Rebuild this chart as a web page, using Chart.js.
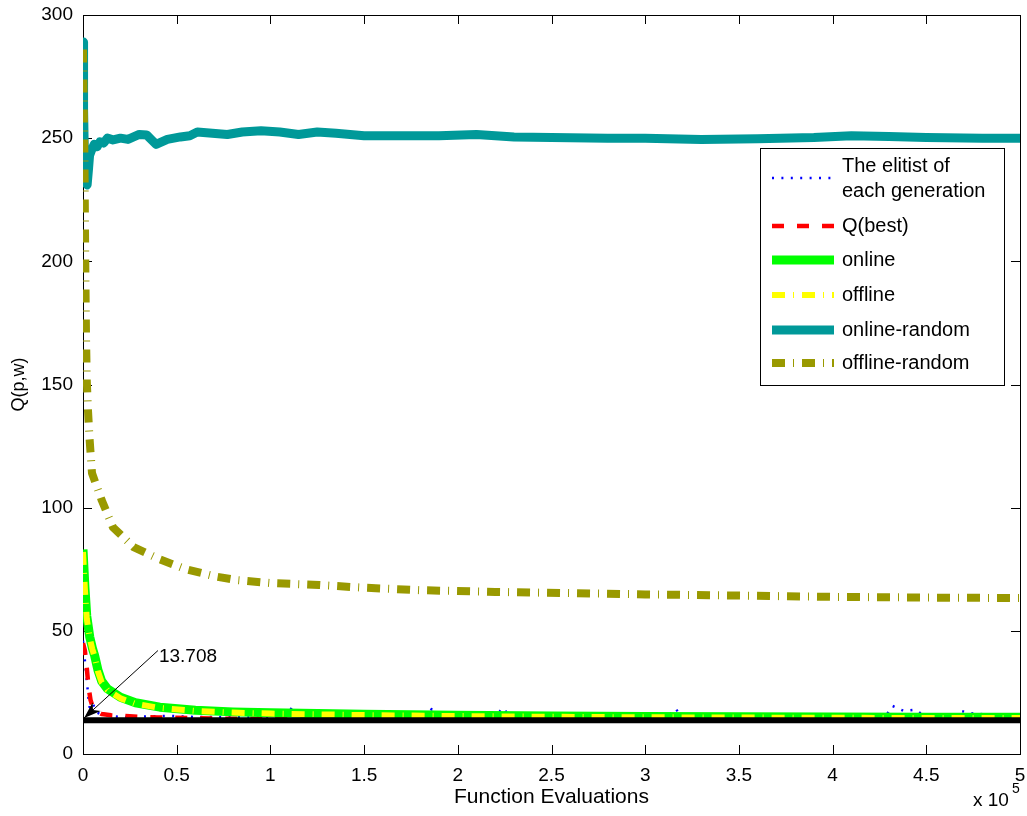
<!DOCTYPE html>
<html>
<head>
<meta charset="utf-8">
<script src="https://cdn.jsdelivr.net/npm/chart.js@4/dist/chart.umd.min.js"></script>
<style>
  html, body { margin: 0; padding: 0; background: #fff; }
  #wrap { width: 1027px; height: 816px; }
</style>
</head>
<body>
<div id="wrap"><canvas id="chartQ" width="1027" height="816"></canvas></div>
<script>
// x values are in units of 10^5 function evaluations
var xElitist = [0, 0.01, 0.02, 0.03, 0.035, 0.05, 0.07, 0.1, 0.15, 0.2, 0.3, 0.45, 0.6, 0.8, 1.08, 1.115, 1.15, 1.5, 1.84, 1.86, 1.9, 2.2, 2.24, 2.28, 2.6, 3.12, 3.16, 3.2, 3.7, 4.28, 4.32, 4.38, 4.44, 4.5, 4.64, 4.68, 4.74, 5];
var yElitist = [46, 38, 30, 22, 19, 21, 17, 16, 15.5, 15, 15.2, 15.5, 15, 15, 15, 18.8, 15, 15, 15, 18.2, 15, 15, 18.8, 15, 15, 15, 18.5, 15, 15.3, 15, 19.5, 17.5, 18, 15, 15, 17.6, 16.5, 15];

var xBest = [0, 0.01, 0.02, 0.03, 0.04, 0.05, 0.07, 0.1, 0.15, 0.25, 0.4, 0.7, 1, 2, 3, 5];
var yBest = [45, 42, 35, 27, 22, 19.5, 17.5, 16.2, 15.7, 15.3, 14.8, 14.4, 14.2, 14.0, 13.9, 13.8];

var xOnline = [0, 0.01, 0.02, 0.036, 0.05, 0.062, 0.08, 0.1, 0.13, 0.2, 0.28, 0.41, 0.6, 0.8, 1.0, 1.5, 2.0, 2.5, 3.0, 3.5, 4.0, 4.5, 5.0];
var yOnline = [83, 68, 56, 47.5, 43, 40, 34, 29.5, 26.5, 23, 20.8, 19, 17.8, 17.1, 16.7, 16.1, 15.7, 15.4, 15.2, 15.1, 15.0, 14.9, 14.9];

var xOffline = [0, 0.01, 0.02, 0.036, 0.05, 0.062, 0.08, 0.1, 0.13, 0.2, 0.28, 0.41, 0.6, 0.8, 1.0, 1.5, 2.0, 2.5, 3.0, 3.5, 4.0, 4.5, 5.0];
var yOffline = [82, 67, 55, 47, 42.5, 39.5, 33.5, 29, 26, 22.6, 20.4, 18.7, 17.5, 16.8, 16.4, 15.8, 15.4, 15.1, 14.9, 14.8, 14.7, 14.6, 14.6];

var xOnlineRandom = [0, 0.003, 0.008, 0.015, 0.022, 0.03, 0.035, 0.045, 0.06, 0.075, 0.09, 0.11, 0.13, 0.16, 0.2, 0.24, 0.27, 0.3, 0.34, 0.37, 0.39, 0.42, 0.45, 0.52, 0.57, 0.61, 0.69, 0.77, 0.85, 0.95, 1.05, 1.15, 1.25, 1.35, 1.5, 1.7, 1.9, 2.1, 2.3, 2.5, 2.8, 3.0, 3.3, 3.6, 3.9, 4.1, 4.3, 4.5, 4.8, 5.0];
var yOnlineRandom = [289, 262, 240, 232, 231, 238, 243, 245, 247.5, 246.5, 248.5, 248, 250, 249.3, 250, 249.5, 250.5, 251.5, 251.3, 249, 247.5, 248.5, 249.5, 250.5, 251, 252.5, 252, 251.5, 252.5, 253, 252.5, 251.5, 252.5, 252, 251, 251, 251, 251.5, 250.5, 250.3, 250, 250, 249.5, 249.8, 250.3, 251, 250.7, 250.3, 250, 250];

var xOfflineRandom = [0, 0.008, 0.012, 0.016, 0.02, 0.027, 0.035, 0.048, 0.1, 0.16, 0.27, 0.41, 0.55, 0.71, 0.82, 1.0, 1.26, 1.5, 1.8, 2.2, 2.6, 3.0, 3.5, 4.0, 4.5, 5.0];
var yOfflineRandom = [286, 240, 200, 170, 152, 139, 128, 114, 103, 92, 84, 79, 75, 72, 70.6, 69.4, 68.6, 67.5, 66.5, 65.8, 65.3, 64.8, 64.3, 63.8, 63.5, 63.3];

var optimumValue = 13.708;
var xOptimum = [0, 5];
var yOptimum = [optimumValue, optimumValue];

var arrowFrom = [0.4, 42];
var arrowTo = [0.006, 14.6];

var xTicks = [0, 0.5, 1, 1.5, 2, 2.5, 3, 3.5, 4, 4.5, 5];
var yTicks = [0, 50, 100, 150, 200, 250, 300];

const FONT = "'Liberation Sans', Arial, Helvetica, sans-serif";

function pts(xs, ys) {
    var out = [];
    for (let i = 0; i < xs.length; i++) { out.push({x: xs[i], y: ys[i]}); }
    return out;
}

function lineSet(label, xs, ys, color, width, dash, order) {
    return {
        label: label,
        data: pts(xs, ys),
        borderColor: color,
        backgroundColor: color,
        borderWidth: width,
        borderDash: dash,
        borderCapStyle: "butt",
        borderJoinStyle: "round",
        pointRadius: 0,
        tension: 0,
        fill: false,
        clip: 0,
        order: order
    };
}

var datasets = [
    lineSet(["The elitist of", "each generation"], xElitist, yElitist, "#0000ff", 2.5, [2, 7.4], 6),
    lineSet(["Q(best)"], xBest, yBest, "#ff0000", 4.5, [12, 13], 5),
    lineSet(["online"], xOnline, yOnline, "#00ff00", 9, [], 4),
    lineSet(["offline"], xOffline, yOffline, "#ffff00", 6, [13, 8, 1, 8], 3),
    lineSet(["online-random"], xOnlineRandom, yOnlineRandom, "#009999", 9, [], 2),
    lineSet(["offline-random"], xOfflineRandom, yOfflineRandom, "#999900", 8, [13, 8, 1, 8], 1),
    lineSet(null, xOptimum, yOptimum, "#000000", 6, [], 0)
];

// frame with inward ticks, like the MATLAB axes box
const framePlugin = {
    id: "frame",
    beforeDatasetsDraw(chart) {
        const c = chart.ctx, a = chart.chartArea;
        const xs = chart.scales.x, ys = chart.scales.y;
        c.save();
        c.strokeStyle = "#000";
        c.lineWidth = 1;
        c.beginPath();
        xTicks.forEach(function(v) {
            const px = Math.round(xs.getPixelForValue(v)) + 0.5;
            c.moveTo(px, a.bottom); c.lineTo(px, a.bottom - 9);
            c.moveTo(px, a.top); c.lineTo(px, a.top + 9);
        });
        yTicks.forEach(function(v) {
            const py = Math.round(ys.getPixelForValue(v)) + 0.5;
            c.moveTo(a.left, py); c.lineTo(a.left + 9, py);
            c.moveTo(a.right, py); c.lineTo(a.right - 9, py);
        });
        c.stroke();
        c.strokeRect(Math.round(a.left) + 0.5, Math.round(a.top) + 0.5, Math.round(a.right - a.left), Math.round(a.bottom - a.top));
        c.restore();
    },
    afterDatasetsDraw(chart) {
        const c = chart.ctx, a = chart.chartArea;
        const xs = chart.scales.x, ys = chart.scales.y;
        c.save();
        // annotation arrow
        const x0 = xs.getPixelForValue(arrowFrom[0]), y0 = ys.getPixelForValue(arrowFrom[1]);
        const x1 = xs.getPixelForValue(arrowTo[0]), y1 = ys.getPixelForValue(arrowTo[1]);
        const ang = Math.atan2(y1 - y0, x1 - x0);
        c.strokeStyle = "#000";
        c.fillStyle = "#000";
        c.lineWidth = 1;
        c.beginPath(); c.moveTo(x0, y0); c.lineTo(x1, y1); c.stroke();
        c.beginPath();
        c.moveTo(x1, y1);
        c.lineTo(x1 - 17 * Math.cos(ang) + 6 * Math.sin(ang), y1 - 17 * Math.sin(ang) - 6 * Math.cos(ang));
        c.lineTo(x1 - 12 * Math.cos(ang), y1 - 12 * Math.sin(ang));
        c.lineTo(x1 - 17 * Math.cos(ang) - 6 * Math.sin(ang), y1 - 17 * Math.sin(ang) + 6 * Math.cos(ang));
        c.closePath();
        c.fill();
        c.font = "19px " + FONT;
        c.textBaseline = "middle";
        c.textAlign = "left";
        c.fillText(String(optimumValue), x0 + 1, y0 + 6);

        // legend box
        const lx = 760.5, ly = 148.5, lw = 244, lh = 237;
        c.fillStyle = "#fff";
        c.fillRect(lx, ly, lw, lh);
        c.strokeStyle = "#000";
        c.strokeRect(lx, ly, lw, lh);
        const rows = [178, 226, 260, 295, 330, 363];
        c.font = "20px " + FONT;
        chart.data.datasets.forEach(function(ds, i) {
            if (!ds.label) return;
            const yy = rows[i];
            c.save();
            c.beginPath();
            c.strokeStyle = ds.borderColor;
            c.lineWidth = ds.borderWidth;
            c.lineCap = "butt";
            c.setLineDash(ds.borderDash);
            c.moveTo(772, yy); c.lineTo(834, yy);
            c.stroke();
            c.restore();
            c.fillStyle = "#000";
            if (ds.label.length === 2) {
                c.fillText(ds.label[0], 842, yy - 12);
                c.fillText(ds.label[1], 842, yy + 13);
            } else {
                c.fillText(ds.label[0], 842, yy);
            }
        });

        // exponent label under the x axis
        c.fillStyle = "#000";
        c.textBaseline = "alphabetic";
        c.font = "19px " + FONT;
        c.fillText("x 10", 973, 806);
        c.font = "14px " + FONT;
        c.fillText("5", 1012, 793);
        c.restore();
    }
};

function noMargins(s) {
    s.paddingLeft = 0; s.paddingRight = 0; s.paddingTop = 0; s.paddingBottom = 0;
}

var ctx = document.getElementById("chartQ").getContext("2d");
var chartQ = new Chart(ctx, {
    type: "line",
    data: { datasets: datasets },
    options: {
        responsive: false,
        animation: false,
        devicePixelRatio: 1,
        layout: { padding: { left: 0, right: 7, top: 15, bottom: 0 } },
        plugins: {
            legend: { display: false },
            tooltip: { enabled: false }
        },
        scales: {
            x: {
                type: "linear",
                min: 0,
                max: 5,
                afterFit: function(s) { s.height = 62; noMargins(s); },
                afterBuildTicks: function(s) { s.ticks = xTicks.map(v => ({value: v})); },
                grid: { display: false, drawTicks: false },
                border: { display: false },
                ticks: { color: "#000", font: { family: FONT, size: 19 }, padding: 10, maxRotation: 0, autoSkip: false,
                         callback: function(v) { return String(v); } },
                title: { display: true, text: "Function Evaluations", color: "#000", font: { family: FONT, size: 21 }, padding: { top: 0, bottom: 6 } }
            },
            y: {
                type: "linear",
                min: 0,
                max: 300,
                afterFit: function(s) { s.width = 83; noMargins(s); },
                afterBuildTicks: function(s) { s.ticks = yTicks.map(v => ({value: v})); },
                grid: { display: false, drawTicks: false },
                border: { display: false },
                ticks: { color: "#000", font: { family: FONT, size: 19 }, padding: 10,
                         callback: function(v) { return String(v); } },
                title: { display: true, text: "Q(p,w)", color: "#000", font: { family: FONT, size: 18 }, padding: { top: 8, bottom: 0 } }
            }
        }
    },
    plugins: [framePlugin]
});
</script>
</body>
</html>
